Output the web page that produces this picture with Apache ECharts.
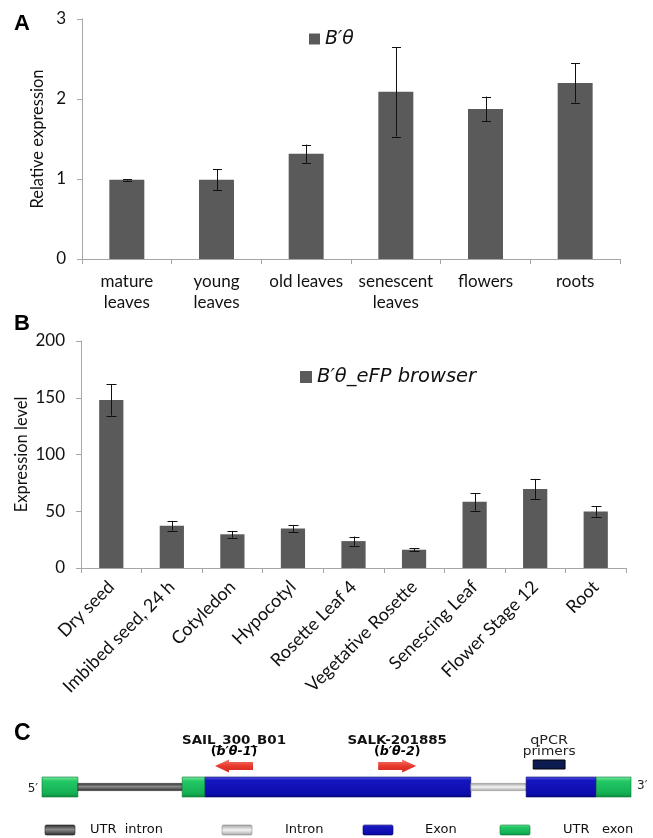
<!DOCTYPE html>
<html><head><meta charset="utf-8">
<script src="https://cdn.jsdelivr.net/npm/echarts@6/dist/echarts.min.js"></script>
<style>html,body{margin:0;padding:0;background:#fff}#c{width:653px;height:838px}</style>
</head><body><div id="c"></div>
<script>
// ---------- Panel A data ----------
const catA = ['mature\nleaves', 'young\nleaves', 'old leaves', 'senescent\nleaves', 'flowers', 'roots'];
const meanA = [0.99, 0.99, 1.315, 2.09, 1.875, 2.2];
const sdA = [0.01, 0.13, 0.115, 0.56, 0.155, 0.245];
const nameA = "B\u2032\u03B8";

// ---------- Panel B data ----------
const catB = ['Dry seed', 'Imbibed seed, 24 h', 'Cotyledon', 'Hypocotyl', 'Rosette Leaf 4',
  'Vegetative Rosette', 'Senescing Leaf', 'Flower Stage 12', 'Root'];
const meanB = [148, 37.2, 29.7, 34.8, 23.7, 16.1, 58.3, 69.7, 49.8];
const sdB = [13.8, 4.3, 3.0, 3.0, 4.0, 1.2, 7.8, 8.8, 4.6];
const nameB = "B\u2032\u03B8_eFP browser";

// ---------- Panel C data (relative gene coordinates 0-1000) ----------
const geneStart = [0, 61, 238, 277, 728, 822, 941];
const geneEnd = [61, 238, 277, 728, 822, 941, 1000];
const geneType = ['utrExon', 'utrIntron', 'utrExon', 'exon', 'intron', 'exon', 'utrExon'];
const insertName = ['SAIL_300_B01', 'SALK-201885'];
const insertAllele = ["b\u2032\u03B8-1", "b\u2032\u03B8-2"];
const insertPos = [326, 603];
const insertDir = [-1, 1];
const primerStart = [834];
const primerEnd = [888];
const legendCTypes = ['utrIntron', 'intron', 'exon', 'utrExon'];
const legendCLabels = ['UTR  intron', 'Intron', 'Exon', 'UTR   exon'];

// ---------- styles ----------
const G = echarts.graphic;
function fillFor(t) {
  if (t === 'utrExon') return new G.LinearGradient(0, 0, 0, 1, [
    {offset: 0, color: '#7ae8a2'}, {offset: 0.22, color: '#22c864'}, {offset: 0.8, color: '#14b054'}, {offset: 1, color: '#0b8c3e'}]);
  if (t === 'exon') return new G.LinearGradient(0, 0, 0, 1, [
    {offset: 0, color: '#5a5ae6'}, {offset: 0.18, color: '#1616c0'}, {offset: 0.85, color: '#0c0cac'}, {offset: 1, color: '#05057c'}]);
  if (t === 'utrIntron') return new G.LinearGradient(0, 0, 0, 1, [
    {offset: 0, color: '#2a2a2a'}, {offset: 0.45, color: '#8a8a8a'}, {offset: 1, color: '#2a2a2a'}]);
  return new G.LinearGradient(0, 0, 0, 1, [
    {offset: 0, color: '#9e9e9e'}, {offset: 0.5, color: '#f4f4f4'}, {offset: 1, color: '#a4a4a4'}]);
}
function strokeFor(t) {
  return {utrExon: '#0a7a35', exon: '#04046a', utrIntron: '#222', intron: '#8a8a8a'}[t];
}

function errRender(capW) {
  return function (params, api) {
    const i = api.value(0);
    const pHi = api.coord([i, api.value(2)]);
    const pLo = api.coord([i, api.value(1)]);
    const x = Math.round(pHi[0]) + 0.5;
    const st = {stroke: '#111', lineWidth: 1};
    return {type: 'group', children: [
      {type: 'line', shape: {x1: x, y1: pHi[1], x2: x, y2: pLo[1]}, style: st},
      {type: 'line', shape: {x1: x - capW / 2, y1: Math.round(pHi[1]) + 0.5, x2: x + capW / 2, y2: Math.round(pHi[1]) + 0.5}, style: st},
      {type: 'line', shape: {x1: x - capW / 2, y1: Math.round(pLo[1]) + 0.5, x2: x + capW / 2, y2: Math.round(pLo[1]) + 0.5}, style: st}
    ]};
  };
}

const axisGray = '#a6a6a6';
const txt = '#111';
const FONT = 'Lato';

const option = {
  animation: false,
  backgroundColor: '#fff',
  grid: [
    {left: 82, top: 19, width: 538, height: 240, outerBoundsMode: 'none'},
    {left: 81, top: 341, width: 545, height: 227, outerBoundsMode: 'none'},
    {left: 42, top: 777, width: 589, height: 20, outerBoundsMode: 'none'}
  ],
  legend: [
    {data: [nameA], left: 309, top: 29, padding: 0, itemWidth: 11, itemHeight: 11, icon: 'rect',
      textStyle: {fontFamily: 'DejaVu Sans', fontStyle: 'italic', fontSize: 19, color: '#111', lineHeight: 20}},
    {data: [nameB], left: 300, top: 367, padding: 0, itemWidth: 12, itemHeight: 12, icon: 'rect',
      textStyle: {fontFamily: 'DejaVu Sans', fontStyle: 'italic', fontSize: 19.5, color: '#111', lineHeight: 20}}
  ],
  xAxis: [
    {type: 'category', gridIndex: 0, data: catA,
      axisLine: {lineStyle: {color: axisGray, width: 1}},
      axisTick: {show: true, length: 5, lineStyle: {color: axisGray}},
      axisLabel: {color: txt, fontFamily: FONT, fontSize: 17, lineHeight: 21, margin: 12, interval: 0}},
    {type: 'category', gridIndex: 1, data: catB,
      axisLine: {lineStyle: {color: axisGray, width: 1}},
      axisTick: {show: true, length: 5, lineStyle: {color: axisGray}},
      axisLabel: {color: txt, fontFamily: FONT, fontSize: 18, rotate: 45, margin: 16, interval: 0}},
    {type: 'value', gridIndex: 2, min: 0, max: 1000, show: false}
  ],
  yAxis: [
    {type: 'value', gridIndex: 0, min: 0, max: 3, interval: 1,
      axisLine: {show: true, lineStyle: {color: axisGray, width: 1}},
      axisTick: {show: true, length: 5, lineStyle: {color: axisGray}},
      splitLine: {show: false},
      axisLabel: {color: txt, fontFamily: FONT, fontSize: 17, margin: 16},
      name: 'Relative expression', nameLocation: 'middle', nameGap: 36, nameMoveOverlap: false,
      nameTextStyle: {color: txt, fontFamily: FONT, fontSize: 16.5}},
    {type: 'value', gridIndex: 1, min: 0, max: 200, interval: 50,
      axisLine: {show: true, lineStyle: {color: axisGray, width: 1}},
      axisTick: {show: true, length: 5, lineStyle: {color: axisGray}},
      splitLine: {show: false},
      axisLabel: {color: txt, fontFamily: FONT, fontSize: 17, margin: 16},
      name: 'Expression level', nameLocation: 'middle', nameGap: 51, nameMoveOverlap: false,
      nameTextStyle: {color: txt, fontFamily: FONT, fontSize: 16.5}},
    {type: 'value', gridIndex: 2, min: 0, max: 1, show: false}
  ],
  series: [
    {type: 'bar', name: nameA, xAxisIndex: 0, yAxisIndex: 0, data: meanA, barWidth: '39%',
      itemStyle: {color: '#5a5a5a'}},
    {type: 'custom', name: 'errA', xAxisIndex: 0, yAxisIndex: 0, renderItem: errRender(9),
      data: meanA.map((m, i) => [i, m - sdA[i], m + sdA[i]]), encode: {x: 0, y: [1, 2]}, z: 5},
    {type: 'bar', name: nameB, xAxisIndex: 1, yAxisIndex: 1, data: meanB, barWidth: '40%',
      itemStyle: {color: '#5a5a5a'}},
    {type: 'custom', name: 'errB', xAxisIndex: 1, yAxisIndex: 1, renderItem: errRender(10),
      data: meanB.map((m, i) => [i, m - sdB[i], m + sdB[i]]), encode: {x: 0, y: [1, 2]}, z: 5},
    // gene model
    {type: 'custom', name: 'gene', xAxisIndex: 2, yAxisIndex: 2, clip: false,
      data: geneStart.map((s, i) => [s, geneEnd[i]]),
      renderItem: function (params, api) {
        const p1 = api.coord([api.value(0), 1]);
        const p2 = api.coord([api.value(1), 0]);
        const t = geneType[params.dataIndex];
        let y = p1[1], h = p2[1] - p1[1];
        if (t === 'intron' || t === 'utrIntron') { y = y + h * 0.32; h = h * 0.36; }
        return {type: 'rect', shape: {x: p1[0], y: y, width: p2[0] - p1[0], height: h},
          style: {fill: fillFor(t), stroke: strokeFor(t), lineWidth: 0.6}};
      }},
    // insertion arrows
    {type: 'custom', name: 'inserts', xAxisIndex: 2, yAxisIndex: 2, clip: false,
      data: insertPos.map((p, i) => [p, insertDir[i]]),
      renderItem: function (params, api) {
        const c = api.coord([api.value(0), 1]);
        const cx = c[0], top = c[1], d = api.value(1);
        const L = 38, hl = 14, bh = 8, hh = 13, cy = top - 11;
        const pts = [[cx - L / 2 * d, cy - bh / 2], [cx + (L / 2 - hl) * d, cy - bh / 2], [cx + (L / 2 - hl) * d, cy - hh / 2],
          [cx + L / 2 * d, cy], [cx + (L / 2 - hl) * d, cy + hh / 2], [cx + (L / 2 - hl) * d, cy + bh / 2], [cx - L / 2 * d, cy + bh / 2]];
        const i = params.dataIndex;
        return {type: 'group', children: [
          {type: 'polygon', shape: {points: pts}, style: {fill: new G.LinearGradient(0, 0, 0, 1, [
            {offset: 0, color: '#f47a6c'}, {offset: 0.5, color: '#e8392c'}, {offset: 1, color: '#cf2a1e'}])}},
          {type: 'text', x: cx, y: top - 36, scaleX: 1.12, style: {text: insertName[i], textAlign: 'center', textVerticalAlign: 'middle',
            font: 'bold 12px "DejaVu Sans"', fill: '#111'}},
          {type: 'text', x: cx, y: top - 25, scaleX: 1.05, style: {text: '{p|(}{i|' + insertAllele[i] + '}{p|)}', textAlign: 'center', textVerticalAlign: 'middle',
            rich: {p: {fontFamily: 'DejaVu Sans', fontWeight: 'bold', fontSize: 12, color: '#111'},
                   i: {fontFamily: 'DejaVu Sans', fontWeight: 'bold', fontStyle: 'italic', fontSize: 12, color: '#111'}}}}
        ]};
      }},
    // qPCR primers
    {type: 'custom', name: 'primers', xAxisIndex: 2, yAxisIndex: 2, clip: false,
      data: primerStart.map((s, i) => [s, primerEnd[i]]),
      renderItem: function (params, api) {
        const a = api.coord([api.value(0), 1]);
        const b = api.coord([api.value(1), 1]);
        const top = a[1], cx = (a[0] + b[0]) / 2;
        return {type: 'group', children: [
          {type: 'rect', shape: {x: a[0], y: top - 17, width: b[0] - a[0], height: 9},
            style: {fill: '#0c1c50', stroke: '#000', lineWidth: 1}},
          {type: 'text', x: cx, y: top - 36, scaleX: 1.15, style: {text: 'qPCR', textAlign: 'center', textVerticalAlign: 'middle',
            font: '12.5px "DejaVu Sans"', fill: '#222'}},
          {type: 'text', x: cx, y: top - 25, scaleX: 1.1, style: {text: 'primers', textAlign: 'center', textVerticalAlign: 'middle',
            font: '12.5px "DejaVu Sans"', fill: '#222'}}
        ]};
      }}
  ],
  graphic: [
    {type: 'text', left: 14, top: 13, style: {text: 'A', font: 'bold 22px "Liberation Sans"', fill: '#000'}},
    {type: 'text', left: 14, top: 313, style: {text: 'B', font: 'bold 22px "Liberation Sans"', fill: '#000'}},
    {type: 'text', left: 14, top: 722, style: {text: 'C', font: 'bold 23px "Liberation Sans"', fill: '#000'}},
    {type: 'text', x: 38, y: 789, style: {text: "5\u2032", font: '12px "DejaVu Sans"', fill: '#222', textAlign: 'right', textVerticalAlign: 'middle'}},
    {type: 'text', x: 637, y: 786, style: {text: "3\u2032", font: '12px "DejaVu Sans"', fill: '#222', textAlign: 'left', textVerticalAlign: 'middle'}}
  ].concat(legendCTypes.map((t, i) => {
    const bx = [45, 222, 363, 500][i];
    const tx = [90, 285, 425, 563][i];
    return {type: 'group', children: [
      {type: 'rect', shape: {x: bx, y: 825, width: 30, height: 10, r: 1.5},
        style: {fill: fillFor(t), stroke: strokeFor(t), lineWidth: 0.6}},
      {type: 'text', x: tx, y: 830, style: {text: legendCLabels[i], font: '13px "DejaVu Sans"', fill: '#111',
        textAlign: 'left', textVerticalAlign: 'middle'}}
    ]};
  }))
};

const chart = echarts.init(document.getElementById('c'), null, {renderer: 'canvas'});
chart.setOption(option);
</script>
</body></html>
